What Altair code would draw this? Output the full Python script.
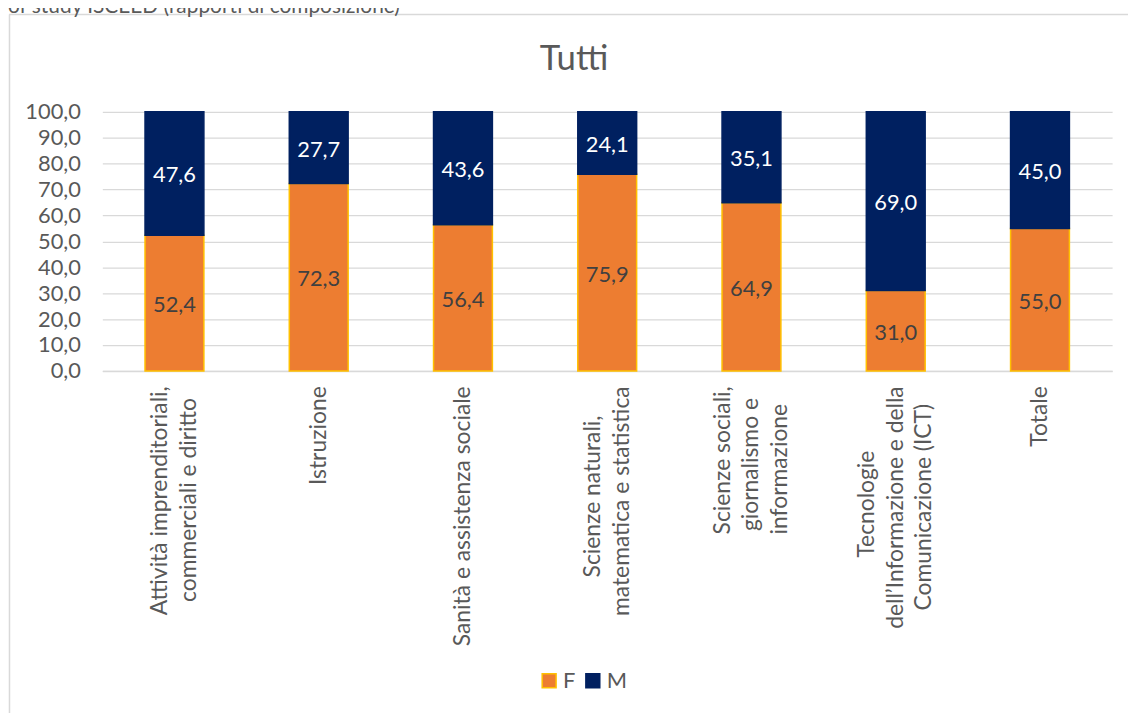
import altair as alt
import pandas as pd

# ---- data ----
header_text = "of study ISCEED (rapporti di composizione)"
chart_title = "Tutti"
category_lines = [
    ["Attività imprenditoriali,", "commerciali e diritto"],
    ["Istruzione"],
    ["Sanità e assistenza sociale"],
    ["Scienze naturali,", "matematica e statistica"],
    ["Scienze sociali,", "giornalismo e", "informazione"],
    ["Tecnologie", "dell’Informazione e della", "Comunicazione (ICT)"],
    ["Totale"],
]
f_values = [52.4, 72.3, 56.4, 75.9, 64.9, 31.0, 55.0]
m_values = [47.6, 27.7, 43.6, 24.1, 35.1, 69.0, 45.0]
series_names = ["F", "M"]
series_fill = ["#ED7D31", "#002060"]
series_stroke = ["#FFC000", "#002060"]
y_ticks = [0, 10, 20, 30, 40, 50, 60, 70, 80, 90, 100]

FONT = "Lato"
GREY = "#595959"
FS = 22
LINE_H = 29

# approximate glyph widths (em) to centre shorter lines of rotated labels
NARROW = set("iljtfrI,.’'() ")
WIDE = set("mwM")


def text_w(s):
    w = 0.0
    for ch in s:
        if ch in NARROW:
            w += 0.27
        elif ch in WIDE:
            w += 0.80
        elif ch.isupper():
            w += 0.60
        else:
            w += 0.51
    return w


NBSP_W = 0.26


def display_label(lines):
    mx = max(text_w(l) for l in lines)
    out = []
    for l in lines:
        n = int(round((mx - text_w(l)) / 2 / NBSP_W))
        # zero-width terminator keeps the padding from being trimmed
        out.append(l + ("\u00a0" * n + "\u200b" if n > 0 else ""))
    return "\n".join(out)


cats = [display_label(l) for l in category_lines]

rows = []
for c, fv, mv in zip(cats, f_values, m_values):
    rows.append({"cat": c, "series": "F", "value": fv, "ord": 0})
    rows.append({"cat": c, "series": "M", "value": mv, "ord": 1})
df = pd.DataFrame(rows)

W, H = 1017, 261
PAD_L, PAD_T = 95, 102
TOTAL_W, TOTAL_H = 1128, 705

# shift multi-line label blocks so they are centred on their tick
n_lines_expr = "length(split(datum.label, '\\n'))"
label_offset = {
    "condition": [
        {"test": f"{n_lines_expr} == 2", "value": -LINE_H / 2},
        {"test": f"{n_lines_expr} == 3", "value": -LINE_H},
    ],
    "value": 0,
}

x_scale = alt.Scale(paddingInner=0.592, paddingOuter=0.296)
x_axis = alt.Axis(
    title=None,
    labelAngle=270,
    labelAlign="right",
    labelBaseline="middle",
    labelPadding=15,
    labelOffset=label_offset,
    labelFont=FONT,
    labelFontSize=23,
    labelColor=GREY,
    labelLineHeight=LINE_H,
    labelLimit=500,
    labelOverlap=False,
    labelExpr="split(datum.label, '\\n')",
    ticks=False,
    domainColor="#D9D9D9",
    domainWidth=1.5,
)

y_scale = alt.Scale(domain=[0, 100], nice=False)
y_axis = alt.Axis(
    title=None,
    values=y_ticks,
    labelExpr="replace(format(datum.value, '.1f'), '.', ',')",
    labelFont=FONT,
    labelFontSize=FS,
    labelColor=GREY,
    labelPadding=22,
    labelOverlap=False,
    ticks=False,
    domain=False,
    gridColor="#D9D9D9",
    gridWidth=1.3,
)

base = alt.Chart(df)

bars = base.mark_bar(strokeWidth=1.5).encode(
    x=alt.X("cat:N", sort=cats, scale=x_scale, axis=x_axis),
    y=alt.Y("value:Q", stack="zero", scale=y_scale, axis=y_axis),
    color=alt.Color(
        "series:N",
        scale=alt.Scale(domain=series_names, range=series_fill),
        legend=alt.Legend(
            title=None,
            orient="none",
            direction="horizontal",
            legendX=439,
            legendY=562,
            symbolType="square",
            symbolSize=196,
            symbolStrokeWidth=1.5,
            labelFont=FONT,
            labelFontSize=FS,
            labelColor=GREY,
            columnPadding=6,
            labelOffset=3,
            padding=0,
        ),
    ),
    stroke=alt.Stroke(
        "series:N",
        scale=alt.Scale(domain=series_names, range=series_stroke),
        legend=None,
    ),
    order=alt.Order("ord:Q"),
)

labels = (
    base.transform_stack(
        stack="value",
        groupby=["cat"],
        sort=[alt.SortField("ord", order="ascending")],
        as_=["y0", "y1"],
    )
    .transform_calculate(
        mid="(datum.y0 + datum.y1) / 2",
        txt="replace(format(datum.value, '.1f'), '.', ',')",
    )
    .mark_text(font=FONT, fontSize=FS, dy=2, baseline="middle")
    .encode(
        x=alt.X("cat:N", sort=cats, scale=x_scale, axis=x_axis),
        y=alt.Y("mid:Q", scale=y_scale, axis=y_axis),
        text="txt:N",
        color=alt.condition(
            alt.datum.series == "F", alt.value("#404040"), alt.value("#FFFFFF")
        ),
    )
)

one = pd.DataFrame({"k": [0]})
frame_top = alt.Chart(one).mark_rule(color="#D9D9D9", strokeWidth=1.5).encode(
    x=alt.value(-PAD_L + 1), x2=alt.value(TOTAL_W), y=alt.value(-PAD_T + 4)
)
frame_left = alt.Chart(one).mark_rule(color="#D9D9D9", strokeWidth=1.5).encode(
    x=alt.value(-PAD_L + 1.5), y=alt.value(-PAD_T + 4), y2=alt.value(TOTAL_H)
)
header = alt.Chart(pd.DataFrame({"t": [header_text]})).mark_text(
    font=FONT, fontSize=21, color=GREY, align="left", baseline="alphabetic"
).encode(x=alt.value(-PAD_L), y=alt.value(-PAD_T + 3), text="t:N")
title = alt.Chart(pd.DataFrame({"t": [chart_title]})).mark_text(
    font=FONT, fontSize=35, color=GREY, align="center", baseline="alphabetic"
).encode(x=alt.value(475), y=alt.value(-42), text="t:N")

chart = (
    alt.layer(bars, labels, frame_top, frame_left, header, title)
    .properties(
        width=W,
        height=H,
        autosize=alt.AutoSizeParams(type="none"),
        padding={"left": PAD_L, "top": PAD_T, "right": TOTAL_W - PAD_L - W, "bottom": TOTAL_H - PAD_T - H},
    )
    .configure_view(stroke=None)
)

chart.save("out.html", embed_options={"renderer": "svg", "actions": False})
